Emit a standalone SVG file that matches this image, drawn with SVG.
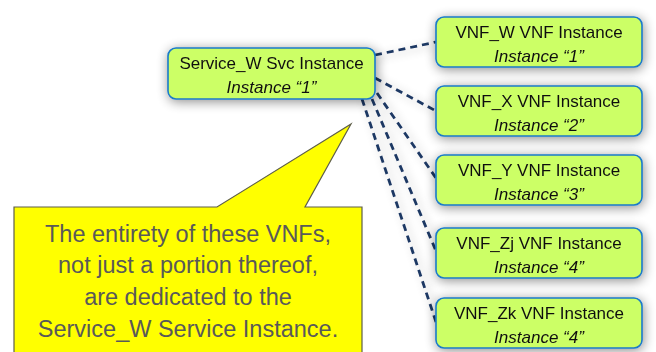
<svg xmlns="http://www.w3.org/2000/svg" width="656" height="352" viewBox="0 0 656 352">
  <defs>
    <filter id="shadow" x="-20%" y="-40%" width="140%" height="180%">
      <feGaussianBlur in="SourceAlpha" stdDeviation="6"/>
      <feOffset dx="1" dy="2" result="b"/>
      <feComponentTransfer><feFuncA type="linear" slope="0.45"/></feComponentTransfer>
      <feMerge><feMergeNode/><feMergeNode in="SourceGraphic"/></feMerge>
    </filter>
    <filter id="lshadow" x="-50%" y="-50%" width="200%" height="200%">
      <feGaussianBlur in="SourceAlpha" stdDeviation="5"/>
      <feOffset dx="3" dy="2"/>
      <feComponentTransfer><feFuncA type="linear" slope="0.3"/></feComponentTransfer>
      <feMerge><feMergeNode/><feMergeNode in="SourceGraphic"/></feMerge>
    </filter>
    <style>
      .box { fill: #CCFF66; stroke: #1A7AC8; stroke-width: 1.6; }
      .t1 { font-family: "Liberation Sans", Arial, sans-serif; font-size: 17px; fill: #111; text-anchor: middle; }
      .t2 { font-family: "Liberation Sans", Arial, sans-serif; font-size: 17px; font-style: italic; fill: #111; text-anchor: middle; }
      .conn { stroke: #1F3864; stroke-width: 2.8; stroke-dasharray: 7 5; fill: none; }
      .callout { fill: #FFFF00; stroke: #5E5E4A; stroke-width: 1.2; }
      .ct { font-family: "Liberation Sans", Arial, sans-serif; font-size: 23.5px; fill: #595959; text-anchor: middle; }
    </style>
  </defs>

  <g id="connectors" filter="url(#lshadow)">
    <line class="conn" x1="375" y1="55" x2="436" y2="42"/>
    <line class="conn" x1="375" y1="78" x2="436" y2="111"/>
    <line class="conn" x1="377" y1="93" x2="436" y2="178"/>
    <line class="conn" x1="372" y1="99" x2="436" y2="251"/>
    <line class="conn" x1="362" y1="99" x2="436" y2="322"/>
  </g>

  <g id="service_w" filter="url(#shadow)">
    <rect class="box" x="168" y="48" width="207" height="51" rx="8"/>
    <text class="t1" x="271.5" y="69">Service_W Svc Instance</text>
    <text class="t2" x="271.5" y="93">Instance “1”</text>
  </g>

  <g id="vnf_w" filter="url(#shadow)">
    <rect class="box" x="436" y="17" width="206" height="50" rx="8"/>
    <text class="t1" x="539" y="38">VNF_W VNF Instance</text>
    <text class="t2" x="539" y="62">Instance “1”</text>
  </g>

  <g id="vnf_x" filter="url(#shadow)">
    <rect class="box" x="436" y="86" width="206" height="50" rx="8"/>
    <text class="t1" x="539" y="107">VNF_X VNF Instance</text>
    <text class="t2" x="539" y="131">Instance “2”</text>
  </g>

  <g id="vnf_y" filter="url(#shadow)">
    <rect class="box" x="436" y="155" width="206" height="50" rx="8"/>
    <text class="t1" x="539" y="176">VNF_Y VNF Instance</text>
    <text class="t2" x="539" y="200">Instance “3”</text>
  </g>

  <g id="vnf_zj" filter="url(#shadow)">
    <rect class="box" x="436" y="228" width="206" height="50" rx="8"/>
    <text class="t1" x="539" y="249">VNF_Zj VNF Instance</text>
    <text class="t2" x="539" y="273">Instance “4”</text>
  </g>

  <g id="vnf_zk" filter="url(#shadow)">
    <rect class="box" x="436" y="298" width="206" height="50" rx="8"/>
    <text class="t1" x="539" y="319">VNF_Zk VNF Instance</text>
    <text class="t2" x="539" y="343">Instance “4”</text>
  </g>

  <g id="callout">
    <path class="callout" d="M14,207 H217 L351,124 L305,207 H362 V362 H14 Z"/>
    <text class="ct" x="188" y="242">The entirety of these VNFs,</text>
    <text class="ct" x="188" y="273">not just a portion thereof,</text>
    <text class="ct" x="188" y="305">are dedicated to the</text>
    <text class="ct" x="188" y="337">Service_W Service Instance.</text>
  </g>
</svg>
